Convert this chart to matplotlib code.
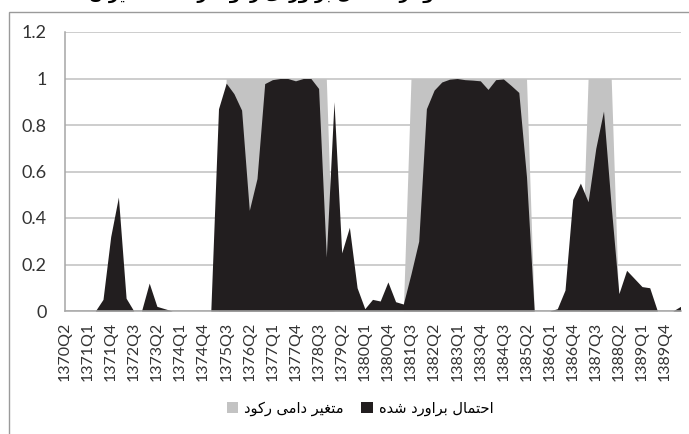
import numpy as np
import matplotlib
matplotlib.use("Agg")
import matplotlib.pyplot as plt
from matplotlib.patches import Patch, Rectangle

# quarters 1370Q2 .. 1390Q2
quarters = [f"{y}Q{q}" for y in range(1370, 1391) for q in range(1, 5)][1:82]
tick_labels = quarters[::3]

# estimated probability of recession (black area)
prob = [0, 0, 0, 0, 0, 0.05, 0.32, 0.49, 0.055, 0,
        0, 0.12, 0.02, 0.01, 0, 0, 0, 0, 0, 0,
        0.87, 0.98, 0.935, 0.864, 0.433, 0.57, 0.978, 0.995, 1.0, 1.0,
        0.99, 1.0, 1.0, 0.957, 0.232, 0.9, 0.25, 0.36, 0.10, 0.01,
        0.05, 0.043, 0.125, 0.04, 0.03, 0.16, 0.30, 0.87, 0.95, 0.985,
        0.997, 1.0, 0.995, 0.993, 0.99, 0.953, 0.995, 0.998, 0.97, 0.94,
        0.577, 0, 0, 0, 0.01, 0.09, 0.48, 0.55, 0.47, 0.70,
        0.86, 0.45, 0.075, 0.175, 0.14, 0.105, 0.10, 0, 0, 0,
        0.02]

# recession dummy (gray area)
dummy = [0] * 21 + [1] * 14 + [0] * 10 + [1] * 16 + [0] * 7 + [1] * 4 + [0] * 9

yticks = [0, 0.2, 0.4, 0.6, 0.8, 1, 1.2]
ytick_labels = ["0", "0.2", "0.4", "0.6", "0.8", "1", "1.2"]

label_dummy = "متغیر دامی رکود"
label_prob = "احتمال براورد شده"
title_text = "نمودار احتمال برآوردی رکود در اقتصاد ایران"

# minimal persian shaping: isolated, final, initial, medial
FORMS = {
    'ا': ('\uFE8D', '\uFE8E', None, None),
    'آ': ('\uFE81', '\uFE82', None, None),
    'ب': ('\uFE8F', '\uFE90', '\uFE91', '\uFE92'),
    'ت': ('\uFE95', '\uFE96', '\uFE97', '\uFE98'),
    'ح': ('\uFEA1', '\uFEA2', '\uFEA3', '\uFEA4'),
    'د': ('\uFEA9', '\uFEAA', None, None),
    'ر': ('\uFEAD', '\uFEAE', None, None),
    'ش': ('\uFEB5', '\uFEB6', '\uFEB7', '\uFEB8'),
    'ص': ('\uFEB9', '\uFEBA', '\uFEBB', '\uFEBC'),
    'غ': ('\uFECD', '\uFECE', '\uFECF', '\uFED0'),
    'ق': ('\uFED5', '\uFED6', '\uFED7', '\uFED8'),
    'ک': ('\uFED9', '\uFEDA', '\uFEDB', '\uFEDC'),
    'ل': ('\uFEDD', '\uFEDE', '\uFEDF', '\uFEE0'),
    'م': ('\uFEE1', '\uFEE2', '\uFEE3', '\uFEE4'),
    'ن': ('\uFEE5', '\uFEE6', '\uFEE7', '\uFEE8'),
    'ه': ('\uFEE9', '\uFEEA', '\uFEEB', '\uFEEC'),
    'و': ('\uFEED', '\uFEEE', None, None),
    'ی': ('\uFEEF', '\uFEF0', '\uFEF3', '\uFEF4'),
}


def shape(text):
    out = []
    for i, ch in enumerate(text):
        if ch not in FORMS:
            out.append(ch)
            continue
        f = FORMS[ch]
        prev = text[i - 1] if i > 0 else ''
        nxt = text[i + 1] if i + 1 < len(text) else ''
        jp = prev in FORMS and FORMS[prev][2] is not None
        jn = nxt in FORMS and f[2] is not None
        if jp and jn:
            out.append(f[3])
        elif jp:
            out.append(f[1])
        elif jn:
            out.append(f[2])
        else:
            out.append(f[0])
    return ''.join(reversed(out))


plt.rcParams['font.family'] = ['Lato', 'DejaVu Sans']

fig = plt.figure(figsize=(6.89, 4.34), dpi=100)
ax = fig.add_axes([64.5 / 689, 1 - 311 / 434, (680.5 - 64.5) / 689, (311 - 32) / 434])

x = np.arange(len(quarters))
gray = '#c3c3c3'
black = '#221e1f'
ax.fill_between(x, dummy, 0, color=gray, lw=0, zorder=2)
ax.fill_between(x, prob, 0, color=black, lw=0, zorder=3)

ax.set_xlim(0, len(quarters) - 1)
ax.set_ylim(0, 1.2)
ax.set_yticks(yticks)
ax.set_yticklabels(ytick_labels)
ax.set_xticks(x[::3])
ax.set_xticklabels(tick_labels, rotation=90)
ax.tick_params(axis='y', length=0, pad=13, labelsize=13, labelcolor='#333333')
ax.tick_params(axis='x', length=0, pad=8, labelsize=11.5, labelcolor='#333333')

ax.grid(axis='y', color='#c0c0c0', lw=1.1, zorder=1)
ax.set_axisbelow(True)
for s in ['top', 'right']:
    ax.spines[s].set_visible(False)
for s in ['left', 'bottom']:
    ax.spines[s].set_color('#a6a6a6')
    ax.spines[s].set_linewidth(1.1)
    ax.spines[s].set_zorder(4)

# chart frame
fig.patches.append(Rectangle((9 / 689, -0.05), 1.0, 1.05 - 12 / 434,
                             transform=fig.transFigure, fill=False,
                             edgecolor='#9a9a9a', lw=1.0))

handles = [Patch(facecolor=gray, edgecolor='none', label=shape(label_dummy)),
           Patch(facecolor=black, edgecolor='none', label=shape(label_prob))]
fig.legend(handles=handles, loc='center', bbox_to_anchor=(360 / 689, 1 - 408 / 434),
           ncol=2, frameon=False, prop={'family': 'DejaVu Sans', 'size': 10.5},
           handlelength=0.8, handleheight=0.8, handletextpad=0.4, columnspacing=1.2)

# title is cut off at the top edge, as in the source image
fig.text(270 / 689, 1 + 7 / 434, shape(title_text), ha='center', va='center',
         fontsize=12, fontweight='bold', family='DejaVu Sans')

fig.savefig('out.png', dpi=100)
